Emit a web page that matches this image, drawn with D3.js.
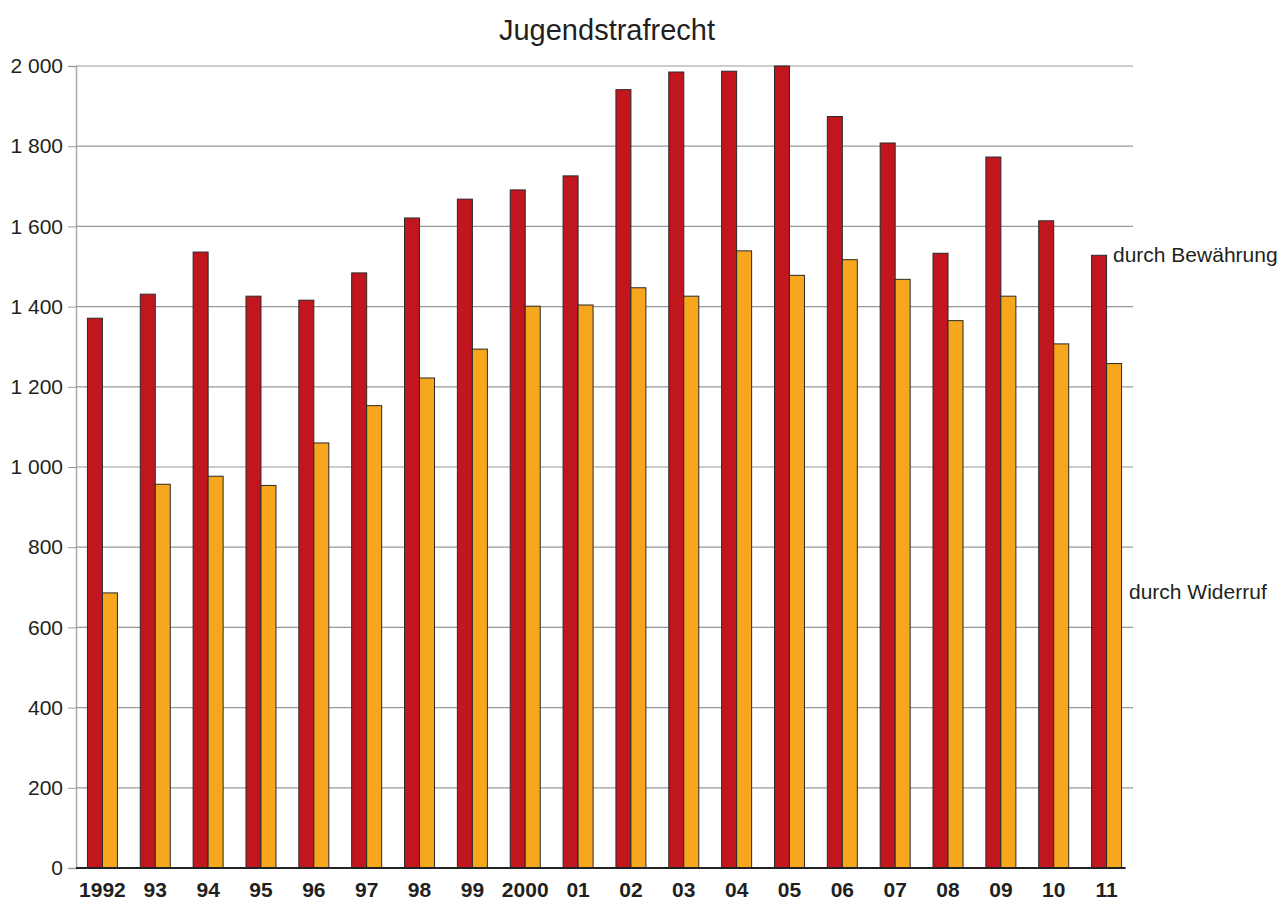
<!DOCTYPE html>
<html>
<head>
<meta charset="utf-8">
<script src="https://cdn.jsdelivr.net/npm/d3@7"></script>
<style>
  body { margin: 0; background: #fff; }
  svg { font-family: "Liberation Sans", Arial, Helvetica, sans-serif; }
</style>
</head>
<body>
<svg id="chart"></svg>
<script>
// data
const years = ['1992', '93', '94', '95', '96', '97', '98', '99', '2000', '01',
               '02', '03', '04', '05', '06', '07', '08', '09', '10', '11'];
const bewaehrung = [1371, 1431, 1536, 1426, 1416, 1484, 1621, 1668, 1691, 1726,
                    1941, 1985, 1987, 2000, 1874, 1808, 1533, 1773, 1614, 1528];
const widerruf = [686, 957, 977, 954, 1060, 1153, 1222, 1294, 1401, 1404,
                  1447, 1426, 1539, 1478, 1517, 1468, 1365, 1426, 1307, 1258];
const yTicks = [0, 200, 400, 600, 800, 1000, 1200, 1400, 1600, 1800, 2000];

const width = 1285;
const height = 901;
const margin = {top: 66, right: 152, bottom: 33, left: 76};

const svg = d3.select('#chart')
    .attr('width', width)
    .attr('height', height);

const x = d3.scaleBand()
    .domain(years)
    .range([margin.left, width - margin.right]);

const y = d3.scaleLinear()
    .domain([0, 2000])
    .range([height - margin.bottom, margin.top]);

// thousands separated by a space, like "2 000"
const fmt = v => d3.format(',')(v).replace(',', ' ');

// title
svg.append('text')
    .attr('x', 607)
    .attr('y', 40)
    .attr('text-anchor', 'middle')
    .attr('font-size', 29)
    .attr('fill', '#231f20')
    .text('Jugendstrafrecht');

// gridlines + y labels
const yAxis = svg.append('g')
    .attr('transform', 'translate(' + margin.left + ',0)')
    .call(d3.axisLeft(y)
        .tickValues(yTicks)
        .tickSize(8)
        .tickPadding(5)
        .tickFormat(fmt));
yAxis.select('.domain').attr('stroke', '#aaa').attr('stroke-width', 1.5);
yAxis.selectAll('.tick line').attr('stroke', '#999');
yAxis.selectAll('.tick text')
    .attr('font-size', 21)
    .attr('fill', '#231f20');

svg.append('g')
    .selectAll('line')
    .data(yTicks.filter(d => d > 0))
    .enter()
    .append('line')
    .attr('x1', margin.left)
    .attr('x2', width - margin.right)
    .attr('y1', d => y(d))
    .attr('y2', d => y(d))
    .attr('stroke', '#999')
    .attr('stroke-width', 1.2);

// bars
const barW = 15;
const groups = svg.append('g')
    .selectAll('g')
    .data(years)
    .enter()
    .append('g')
    .attr('transform', d => 'translate(' + (x(d) + x.bandwidth() / 2) + ',0)');

groups.append('rect')
    .attr('x', -barW)
    .attr('y', (d, i) => y(bewaehrung[i]))
    .attr('width', barW)
    .attr('height', (d, i) => y(0) - y(bewaehrung[i]))
    .attr('fill', '#c2161e')
    .attr('stroke', '#2a2a2a')
    .attr('stroke-width', 1);

groups.append('rect')
    .attr('x', 0)
    .attr('y', (d, i) => y(widerruf[i]))
    .attr('width', barW)
    .attr('height', (d, i) => y(0) - y(widerruf[i]))
    .attr('fill', '#f6a71e')
    .attr('stroke', '#2a2a2a')
    .attr('stroke-width', 1);

// x axis
const xAxis = svg.append('g')
    .attr('transform', 'translate(0,' + y(0) + ')')
    .call(d3.axisBottom(x).tickSize(0).tickPadding(14));
xAxis.select('.domain')
    .attr('stroke', '#222')
    .attr('stroke-width', 2)
    .attr('d', 'M' + margin.left + ',0H' + (x('11') + x.bandwidth() / 2 + barW + 4));
xAxis.selectAll('.tick text')
    .attr('font-size', 21)
    .attr('font-weight', 'bold')
    .attr('fill', '#231f20');

// series labels
svg.append('text')
    .attr('x', 1113)
    .attr('y', 262)
    .attr('font-size', 21)
    .attr('fill', '#231f20')
    .text('durch Bewährung');

svg.append('text')
    .attr('x', 1129)
    .attr('y', 599)
    .attr('font-size', 21)
    .attr('fill', '#231f20')
    .text('durch Widerruf');
</script>
</body>
</html>
